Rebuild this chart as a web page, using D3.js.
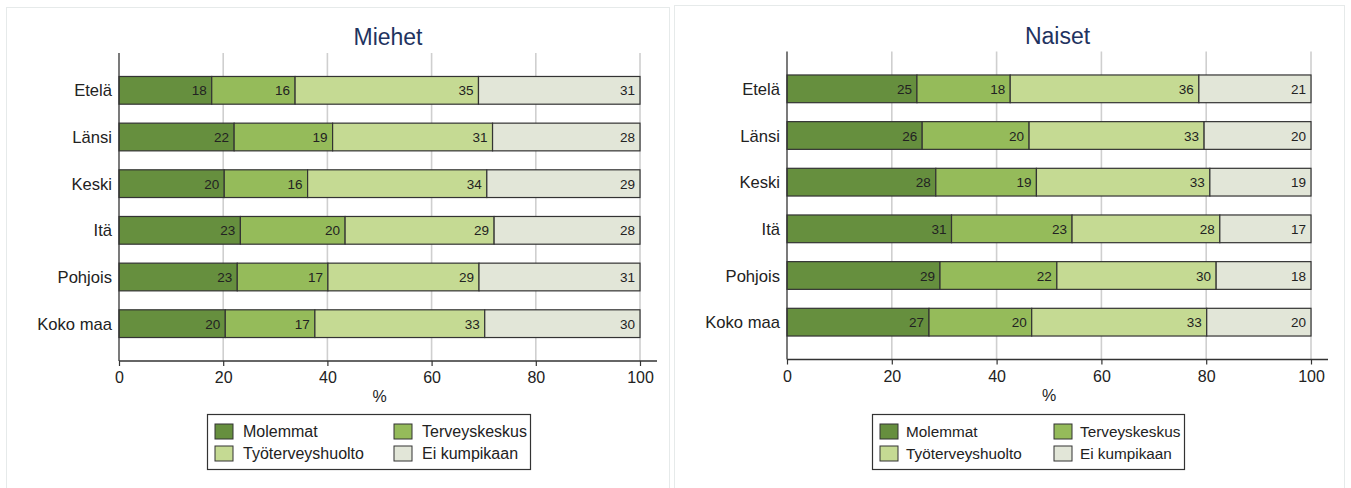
<!DOCTYPE html>
<html>
<head>
<meta charset="utf-8">
<script src="https://cdn.jsdelivr.net/npm/d3@7"></script>
<style>
  body { margin: 0; background: #fff; }
  text { font-family: "Liberation Sans", Arial, sans-serif; fill: #222; }
</style>
</head>
<body>
<script>
// data
const categories = ["Etelä", "Länsi", "Keski", "Itä", "Pohjois", "Koko maa"];
const seriesNames = ["Molemmat", "Terveyskeskus", "Työterveyshuolto", "Ei kumpikaan"];
const seriesColors = ["#668f3e", "#95bb5a", "#c5da93", "#e2e6d8"];
const xTicks = [0, 20, 40, 60, 80, 100];

const miehetMolemmat = [17.8, 22.1, 20.2, 23.3, 22.7, 20.4];
const miehetTerveyskeskus = [16.0, 18.9, 16.0, 20.1, 17.4, 17.2];
const miehetTyoterveys = [35.2, 30.7, 34.4, 28.6, 29.0, 32.6];
const miehetEiKumpikaan = [31.0, 28.3, 29.4, 28.0, 30.9, 29.8];

const naisetMolemmat = [24.8, 25.8, 28.4, 31.4, 29.2, 27.1];
const naisetTerveyskeskus = [17.8, 20.4, 19.2, 23.0, 22.3, 19.6];
const naisetTyoterveys = [36.0, 33.4, 33.1, 28.2, 30.4, 33.4];
const naisetEiKumpikaan = [21.4, 20.4, 19.3, 17.4, 18.1, 19.9];

const svg = d3.select("body").append("svg")
  .attr("width", 1351)
  .attr("height", 488);

// panel frames
svg.append("rect").attr("x", 6.5).attr("y", 7.5).attr("width", 663).attr("height", 490)
  .attr("fill", "#fff").attr("stroke", "#e6eaea");
svg.append("rect").attr("x", 674.5).attr("y", 5.5).attr("width", 670).attr("height", 490)
  .attr("fill", "#fff").attr("stroke", "#e6eaea");

function drawPanel(p) {
  // table for d3.stack
  const rows = categories.map((c, i) => {
    const r = {cat: c};
    seriesNames.forEach((s, j) => r[s] = p.series[j][i]);
    return r;
  });
  const stacked = d3.stack().keys(seriesNames)(rows);

  const x = d3.scaleLinear().domain([0, 100]).range([p.x0, p.x1]);
  const y = d3.scaleBand().domain(categories)
    .range([p.top, p.bottom])
    .paddingInner(0.406)
    .paddingOuter(0.503);

  const g = svg.append("g");

  // title
  g.append("text")
    .attr("x", (p.x0 + p.axisEnd) / 2)
    .attr("y", p.top - 8)
    .attr("text-anchor", "middle")
    .style("font-size", "23px")
    .style("fill", "#1f3360")
    .text(p.title);

  // gridlines
  g.selectAll(".grid")
    .data(xTicks.slice(1))
    .enter().append("line")
    .attr("x1", d => x(d)).attr("x2", d => x(d))
    .attr("y1", p.top).attr("y2", p.bottom)
    .attr("stroke", "#cfcfcf")
    .attr("stroke-width", 1.6);

  // bars
  const layer = g.selectAll(".layer")
    .data(stacked)
    .enter().append("g")
    .attr("fill", (d, i) => seriesColors[i]);

  layer.selectAll("rect")
    .data(d => d)
    .enter().append("rect")
    .attr("x", d => x(d[0]))
    .attr("y", d => y(d.data.cat))
    .attr("width", d => x(d[1]) - x(d[0]))
    .attr("height", y.bandwidth())
    .attr("stroke", "#333")
    .attr("stroke-width", 1.2);

  layer.selectAll("text")
    .data(d => d)
    .enter().append("text")
    .attr("x", d => x(d[1]) - 5)
    .attr("y", d => y(d.data.cat) + y.bandwidth() / 2 + 5)
    .attr("text-anchor", "end")
    .style("font-size", "13.5px")
    .text(d => Math.round(d[1] - d[0]));

  // category labels
  g.selectAll(".cat")
    .data(categories)
    .enter().append("text")
    .attr("x", p.x0 - 7)
    .attr("y", d => y(d) + y.bandwidth() / 2 + 6)
    .attr("text-anchor", "end")
    .style("font-size", "16.6px")
    .text(d => d);

  // axes lines
  g.append("line")
    .attr("x1", p.x0).attr("x2", p.x0)
    .attr("y1", p.top).attr("y2", p.bottom)
    .attr("stroke", "#333").attr("stroke-width", 1.3);

  const xAxis = g.append("g")
    .attr("transform", `translate(0, ${p.bottom})`)
    .call(d3.axisBottom(x).tickValues(xTicks).tickSize(5).tickPadding(6));
  xAxis.select(".domain").remove();
  xAxis.selectAll(".tick line").attr("stroke", "#333").attr("stroke-width", 1.2);
  xAxis.selectAll(".tick text")
    .style("font-size", "16px")
    .style("font-family", "Liberation Sans, Arial, sans-serif")
    .attr("fill", "#222");
  g.append("line")
    .attr("x1", p.x0).attr("x2", p.axisEnd)
    .attr("y1", p.bottom).attr("y2", p.bottom)
    .attr("stroke", "#333").attr("stroke-width", 1.3);

  g.append("text")
    .attr("x", (p.x0 + p.x1) / 2)
    .attr("y", p.bottom + 41)
    .attr("text-anchor", "middle")
    .style("font-size", "16px")
    .text("%");

  // legend
  const L = p.legend;
  const lg = g.append("g").attr("transform", `translate(${L.x}, ${L.y})`);
  lg.append("rect")
    .attr("x", 0.5).attr("y", 0.5)
    .attr("width", L.w).attr("height", 55)
    .attr("fill", "#fff").attr("stroke", "#333").attr("stroke-width", 1.2);
  seriesNames.forEach((s, i) => {
    const col = i % 2, row = Math.floor(i / 2);
    const ix = 8 + col * L.col2;
    const iy = 10 + row * 22;
    lg.append("rect")
      .attr("x", ix).attr("y", iy)
      .attr("width", 18).attr("height", 15)
      .attr("fill", seriesColors[i])
      .attr("stroke", "#333").attr("stroke-width", 1);
    lg.append("text")
      .attr("x", ix + L.gap)
      .attr("y", iy + 13)
      .style("font-size", L.font + "px")
      .text(s);
  });
}

drawPanel({
  title: "Miehet",
  series: [miehetMolemmat, miehetTerveyskeskus, miehetTyoterveys, miehetEiKumpikaan],
  x0: 119, x1: 640, axisEnd: 657,
  top: 53, bottom: 361,
  legend: {x: 207, y: 414, w: 323, col2: 179, gap: 28, font: 16}
});

drawPanel({
  title: "Naiset",
  series: [naisetMolemmat, naisetTerveyskeskus, naisetTyoterveys, naisetEiKumpikaan],
  x0: 787, x1: 1311, axisEnd: 1328,
  top: 51.5, bottom: 359.5,
  legend: {x: 872, y: 414, w: 312, col2: 174, gap: 26, font: 15.3}
});
</script>
</body>
</html>
